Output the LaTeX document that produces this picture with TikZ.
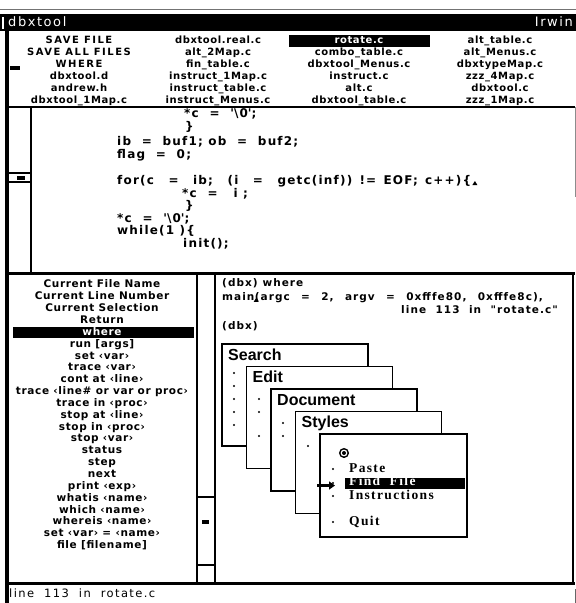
\documentclass[tikz,border=0pt]{standalone}
\usepackage{fontspec}
\setmainfont{DejaVu Sans}
\newfontfamily\scrfont[LetterSpace=6]{DejaVu Sans}
\newfontfamily\capfont[LetterSpace=15]{DejaVu Sans}
\newfontfamily\codefont[LetterSpace=10]{DejaVu Sans}
\newfontfamily\menufont{Liberation Sans}
\newfontfamily\itemfont[LetterSpace=10]{Liberation Serif}
\newfontfamily\statfont[LetterSpace=12]{DejaVu Sans}
\usetikzlibrary{arrows.meta}

\begin{document}
\begin{tikzpicture}[x=1pt,y=-1pt,
  every node/.style={inner sep=0pt},
  lst/.style={font=\scrfont\bfseries\fontsize{10}{12}\selectfont, text height=7.5pt, text depth=2pt},
  cmditem/.style={font=\scrfont\bfseries\fontsize{10.5}{12}\selectfont, text height=7.8pt, text depth=2pt},
  capsitem/.style={font=\capfont\bfseries\fontsize{10}{12}\selectfont, text height=7.5pt, text depth=2pt},
  codeln/.style={anchor=west, font=\codefont\bfseries\fontsize{12}{14}\selectfont, text height=8.5pt, text depth=2.5pt},
  dbxln/.style={font=\codefont\bfseries\fontsize{10.5}{12}\selectfont, text height=8pt, text depth=2.5pt},
  menutitle/.style={anchor=base west, font=\menufont\bfseries\fontsize{16}{18}\selectfont},
  menuitem/.style={anchor=west, font=\itemfont\bfseries\fontsize{13.5}{15}\selectfont, text height=7.5pt, text depth=1pt},
  status/.style={anchor=west, font=\statfont\fontsize{11.5}{13}\selectfont, text height=8pt, text depth=2.5pt},
  titletext/.style={anchor=west, text=white, font=\statfont\fontsize{13}{15}\selectfont, text height=8.5pt, text depth=2.5pt},
  menubox/.style={draw=black, fill=white, line width=1.6pt},
  inv/.style={text=white},
  bar/.style={fill=black},
  frame/.style={line width=1.5pt},
  heavy/.style={line width=3pt},
  dot/.style={fill=black},
]
% page
\fill[white] (0,0) rectangle (576,603);
\useasboundingbox (0,0) rectangle (576,603);

% window top edge and title bar
\draw[black!55, line width=1.2pt] (0,9.5) -- (576,9.5);
\fill[bar] (0,14) rectangle (576,31);
\draw[white, line width=1.2pt] (3,17) -- (3,29);
\node[titletext] (title) at (8,23) {dbxtool};
\node[titletext, anchor=east] (user) at (573,23) {Irwin};

% left window border
\fill[bar] (5,31) rectangle (8.5,603);

% ---------- file list ----------
\fill[bar] (10,66) rectangle (20,70);
\node[capsitem] (f11) at (79,40.5) {SAVE FILE};
\node[capsitem] (f12) at (79,52.5) {SAVE ALL FILES};
\node[capsitem] (f13) at (79,64.5) {WHERE};
\node[lst] (f14) at (79,76.5) {dbxtool.d};
\node[lst] (f15) at (79,88.5) {andrew.h};
\node[lst] (f16) at (79,100.5) {dbxtool\_1Map.c};

\node[lst] (f21) at (218,40.5) {dbxtool.real.c};
\node[lst] (f22) at (218,52.5) {alt\_2Map.c};
\node[lst] (f23) at (218,64.5) {fin\_table.c};
\node[lst] (f24) at (218,76.5) {instruct\_1Map.c};
\node[lst] (f25) at (218,88.5) {instruct\_table.c};
\node[lst] (f26) at (218,100.5) {instruct\_Menus.c};

\fill[bar] (289,34.5) rectangle (430,46.5);
\node[lst, inv] (f31) at (359,40.5) {rotate.c};
\node[lst] (f32) at (359,52.5) {combo\_table.c};
\node[lst] (f33) at (359,64.5) {dbxtool\_Menus.c};
\node[lst] (f34) at (359,76.5) {instruct.c};
\node[lst] (f35) at (359,88.5) {alt.c};
\node[lst] (f36) at (359,100.5) {dbxtool\_table.c};

\node[lst] (f41) at (500,40.5) {alt\_table.c};
\node[lst] (f42) at (500,52.5) {alt\_Menus.c};
\node[lst] (f43) at (500,64.5) {dbxtypeMap.c};
\node[lst] (f44) at (500,76.5) {zzz\_4Map.c};
\node[lst] (f45) at (500,88.5) {dbxtool.c};
\node[lst] (f46) at (500,100.5) {zzz\_1Map.c};

\draw[frame] (8,107) -- (575,107);

% ---------- source view ----------
\draw[frame] (31,107) -- (31,273);
\draw[line width=1.2pt] (8.5,173) -- (31,173);
\draw[line width=1.2pt] (8.5,182) -- (31,182);
\fill[bar] (17,176) rectangle (25,179.5);
\draw[black!45, line width=0.8pt] (575,107) -- (575,197);

\node[codeln] (c1) at (184,114) {*c~~=~~\textquotesingle\textbackslash0\textquotesingle;};
\node[codeln] (c2) at (185,127) {\}};
\node[codeln] (c3) at (117,142) {ib~~=~~buf1;~ob~~=~~buf2;};
\node[codeln] (c4) at (117,155) {flag~~=~~0;};
\node[codeln] (c5) at (117,181) {\makebox[354pt][s]{for(c~~=~~ib;~~(i~~=~~getc(inf))~!=~EOF;~c++)\{}};
\fill (c5.east) ++(1,4) -- ++(5,0) -- ++(-2.5,-4) -- cycle;
\node[codeln] (c6) at (182,194) {*c~~=~~~i~;};
\node[codeln] (c7) at (185,206) {\}};
\node[codeln] (c8) at (117,219) {*c~~=~~\textquotesingle\textbackslash0\textquotesingle;};
\node[codeln] (c9) at (117,231) {while(1~)\{};
\node[codeln] (c10) at (183,244) {init();};

\draw[heavy] (8,273.5) -- (575,273.5);

% ---------- command list ----------
\foreach \t [count=\i from 0] in {{Current File Name},{Current Line Number},{Current Selection},{Return},{where},{run [args]},{set ‹var›},{trace ‹var›},{cont at ‹line›},{trace ‹line\# or var or proc›},{trace in ‹proc›},{stop at ‹line›},{stop in ‹proc›},{stop ‹var›},{status},{step},{next},{print ‹exp›},{whatis ‹name›},{which ‹name›},{whereis ‹name›},{set ‹var› = ‹name›},{file [filename]}}
  \node[cmditem] (cmd\i) at (102,285+11.85*\i) {\t};
\fill[bar] (13,327) rectangle (194,338);
\node[cmditem, inv] (cmdwhere) at (102,332.4) {where};

% command list scrollbar
\draw[frame] (197,273) -- (197,583);
\draw[frame] (197,497) -- (215,497);
\draw[frame] (197,565) -- (215,565);
\fill[bar] (202,520) rectangle (209,524);

% ---------- dbx console ----------
\draw[frame] (215,273) -- (215,583);
\draw[frame] (573,273) -- (573,583);

\node[dbxln, anchor=west] (d1) at (222,284) {(dbx)~where};
\node[dbxln, anchor=west] (d2a) at (222,298) {main};
\node[dbxln, anchor=west] (d2b) at (d2a.east) {\makebox[288pt][s]{(argc~~=~~2,~~argv~~=~~0xfffe80,~~0xfffe8c),}};
\fill (d2a.south east) ++(-1,-1.5) -- ++(5,0) -- ++(-2.5,-4) -- cycle;
\node[dbxln, anchor=east] (d3) at (558,311) {line~~113~~in~~"rotate.c"};
\node[dbxln, anchor=west] (d4) at (222,327) {(dbx)};

% cascaded menus
\draw[menubox] (222,344) rectangle ++(146,102);
\node[menutitle] (mSearch) at (228,360) {Search};
\foreach \y in {373,386,399,412,425} \fill[dot] (234,\y) circle (1.2);

\draw[menubox] (246.5,366.5) rectangle ++(146,102);
\node[menutitle] (mEdit) at (252.5,382.5) {Edit};
\foreach \y in {399,412,436} \fill[dot] (259,\y) circle (1.2);

\draw[menubox] (271,389) rectangle ++(146,102);
\node[menutitle] (mDocument) at (277,405) {Document};
\foreach \y in {423,436} \fill[dot] (283,\y) circle (1.2);

\draw[menubox] (295.5,411.5) rectangle ++(146,102);
\node[menutitle] (mStyles) at (301.5,427.5) {Styles};
\foreach \y in {446} \fill[dot] (308,\y) circle (1.2);

\draw[menubox] (320,434) rectangle ++(147,103);
\draw[line width=1.4pt] (344,453) circle (4.3);
\fill (344,453) circle (2);
\foreach \y in {469,483,496,522} \fill[dot] (333,\y) circle (1.2);
\node[menuitem] (iPaste) at (349,469) {Paste};
\fill[bar] (345,477.5) rectangle (465,488.5);
\node[menuitem, inv] (iFind) at (349,482.5) {Find~~File};
\node[menuitem] (iInstr) at (349,496.5) {Instructions};
\node[menuitem] (iQuit) at (349,522) {Quit};
\coordinate (ptrTail) at (317,485.5);
\coordinate (ptrTip) at (335,485.5);
\draw[line width=2.4pt, -{Triangle[length=6pt,width=8pt]}] (ptrTail) -- (ptrTip);

% ---------- status line ----------
\draw[heavy] (8,583) -- (575,583);
\node[status] (stat) at (9,595) {line~~113~~in~~rotate.c};
\draw[black!60, line width=0.8pt] (575,589) -- (575,603);
\end{tikzpicture}
\end{document}
